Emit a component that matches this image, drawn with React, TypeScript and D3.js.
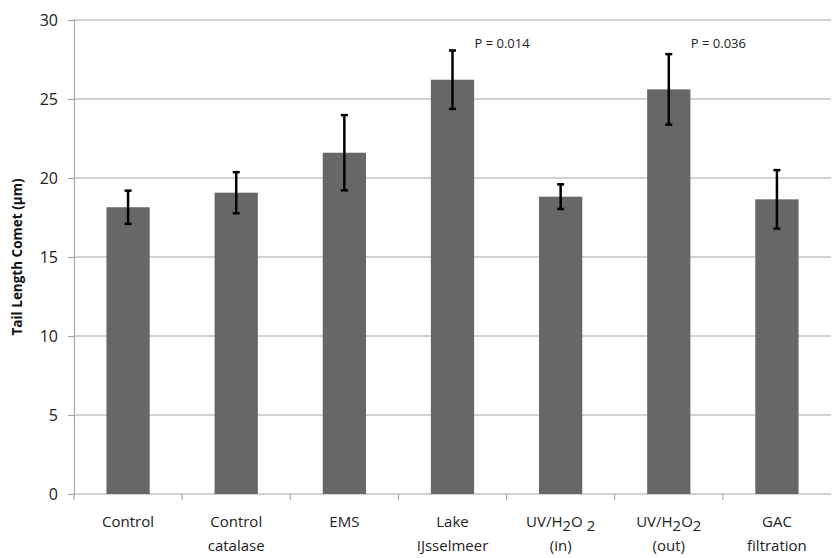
import { useRef, useEffect } from "react";
import * as d3 from "d3";

// categories: each label line, with "sub" marks for the subscript 2
const categories = ["Control", "Control catalase", "EMS", "Lake IJsselmeer", "UV/H2O2 (in)", "UV/H2O2 (out)", "GAC filtration"];
const labelLines = [
  [[["Control", false]]],
  [[["Control", false]], [["catalase", false]]],
  [[["EMS", false]]],
  [[["Lake", false]], [["IJsselmeer", false]]],
  [[["UV/H", false], ["2", true], ["O", false], [" 2", true]], [["(in)", false]]],
  [[["UV/H", false], ["2", true], ["O", false], ["2", true]], [["(out)", false]]],
  [[["GAC", false]], [["filtration", false]]],
];
const means = [18.15, 19.07, 21.6, 26.22, 18.82, 25.61, 18.65];
const errors = [1.05, 1.3, 2.38, 1.85, 0.78, 2.23, 1.85];
const pLabels = ["", "", "", "P = 0.014", "", "P = 0.036", ""];
const yTicks = [0, 5, 10, 15, 20, 25, 30];

const App = () => {
  const svgRef = useRef<SVGSVGElement>(null);

  useEffect(() => {
    const svg = d3.select(svgRef.current);
    svg.selectAll("*").remove();
    const left = 74,
      right = 831,
      top = 20,
      bottom = 494,
      font = "'Open Sans', 'Noto Sans', sans-serif";

    const x = d3.scaleBand().domain(categories).range([left, right]).padding(0);
    const y = d3.scaleLinear().domain([0, 30]).range([bottom, top]);
    const barW = x.bandwidth() * 0.4;

    // grid
    svg
      .append("g")
      .selectAll("line")
      .data(yTicks.filter((t) => t > 0))
      .join("line")
      .attr("x1", left)
      .attr("x2", right)
      .attr("y1", (d) => y(d))
      .attr("y2", (d) => y(d))
      .attr("stroke", "#a6a6a6")
      .attr("stroke-width", 1.2);

    // y axis
    const yAxis = svg
      .append("g")
      .attr("transform", "translate(" + left + ",0)")
      .call(d3.axisLeft(y).tickValues(yTicks).tickSize(6).tickPadding(10));
    yAxis.selectAll(".domain").attr("stroke", "#a6a6a6").attr("stroke-width", 1.2);
    yAxis.selectAll(".tick line").attr("stroke", "#a6a6a6").attr("stroke-width", 1.2);
    yAxis
      .selectAll(".tick text")
      .attr("font-family", font)
      .attr("font-size", 16)
      .attr("fill", "#222");

    // x axis line + boundary ticks
    svg
      .append("line")
      .attr("x1", left)
      .attr("x2", right)
      .attr("y1", bottom)
      .attr("y2", bottom)
      .attr("stroke", "#a6a6a6")
      .attr("stroke-width", 1.2);
    svg
      .append("g")
      .selectAll("line")
      .data(categories)
      .join("line")
      .attr("x1", (d) => x(d)!)
      .attr("x2", (d) => x(d)!)
      .attr("y1", bottom)
      .attr("y2", bottom + 6)
      .attr("stroke", "#a6a6a6")
      .attr("stroke-width", 1.2);

    // bars
    svg
      .append("g")
      .selectAll("rect")
      .data(categories)
      .join("rect")
      .attr("x", (d) => x(d)! + x.bandwidth() / 2 - barW / 2)
      .attr("width", barW)
      .attr("y", (d, i) => y(means[i]))
      .attr("height", (d, i) => bottom - y(means[i]))
      .attr("fill", "#676767");

    // error bars
    const eb = svg.append("g").attr("stroke", "#000").attr("stroke-width", 2.5);
    categories.forEach((c, i) => {
      const cx = x(c)! + x.bandwidth() / 2;
      const hi = y(means[i] + errors[i]);
      const lo = y(means[i] - errors[i]);
      eb.append("line").attr("x1", cx).attr("x2", cx).attr("y1", hi).attr("y2", lo);
      eb.append("line").attr("x1", cx - 3.5).attr("x2", cx + 3.5).attr("y1", hi).attr("y2", hi);
      eb.append("line").attr("x1", cx - 3.5).attr("x2", cx + 3.5).attr("y1", lo).attr("y2", lo);
    });

    // p-values
    svg
      .append("g")
      .selectAll("text")
      .data(categories)
      .join("text")
      .attr("x", (d) => x(d)! + x.bandwidth() / 2 + 22)
      .attr("y", y(28.25))
      .attr("font-family", font)
      .attr("font-size", 13)
      .attr("fill", "#222")
      .text((d, i) => pLabels[i]);

    // category labels
    categories.forEach((c, i) => {
      const cx = x(c)! + x.bandwidth() / 2;
      labelLines[i].forEach((line, li) => {
        const t = svg
          .append("text")
          .attr("x", cx)
          .attr("y", 527 + li * 24)
          .attr("text-anchor", "middle")
          .attr("font-family", font)
          .attr("font-size", 15)
          .attr("fill", "#222");
        (line as [string, boolean][]).forEach(([s, sub]) => {
          const ts = t.append("tspan").text(s);
          if (sub) ts.attr("dy", 4).attr("font-size", 15);
          else if (t.selectAll("tspan").size() > 1) ts.attr("dy", -4);
        });
      });
    });

    // y title
    svg
      .append("text")
      .attr("transform", "translate(22," + (top + bottom) / 2 + ") rotate(-90)")
      .attr("text-anchor", "middle")
      .attr("font-family", font)
      .attr("font-size", 13.5)
      .attr("font-weight", "bold")
      .attr("fill", "#111")
      .text("Tail Length Comet (\u00b5m)");
  }, []);

  return (
    <svg
      ref={svgRef}
      width={835}
      height={558}
      style={{ position: "absolute", left: 0, top: 0, background: "#fff" }}
    ></svg>
  );
};

export default App;
